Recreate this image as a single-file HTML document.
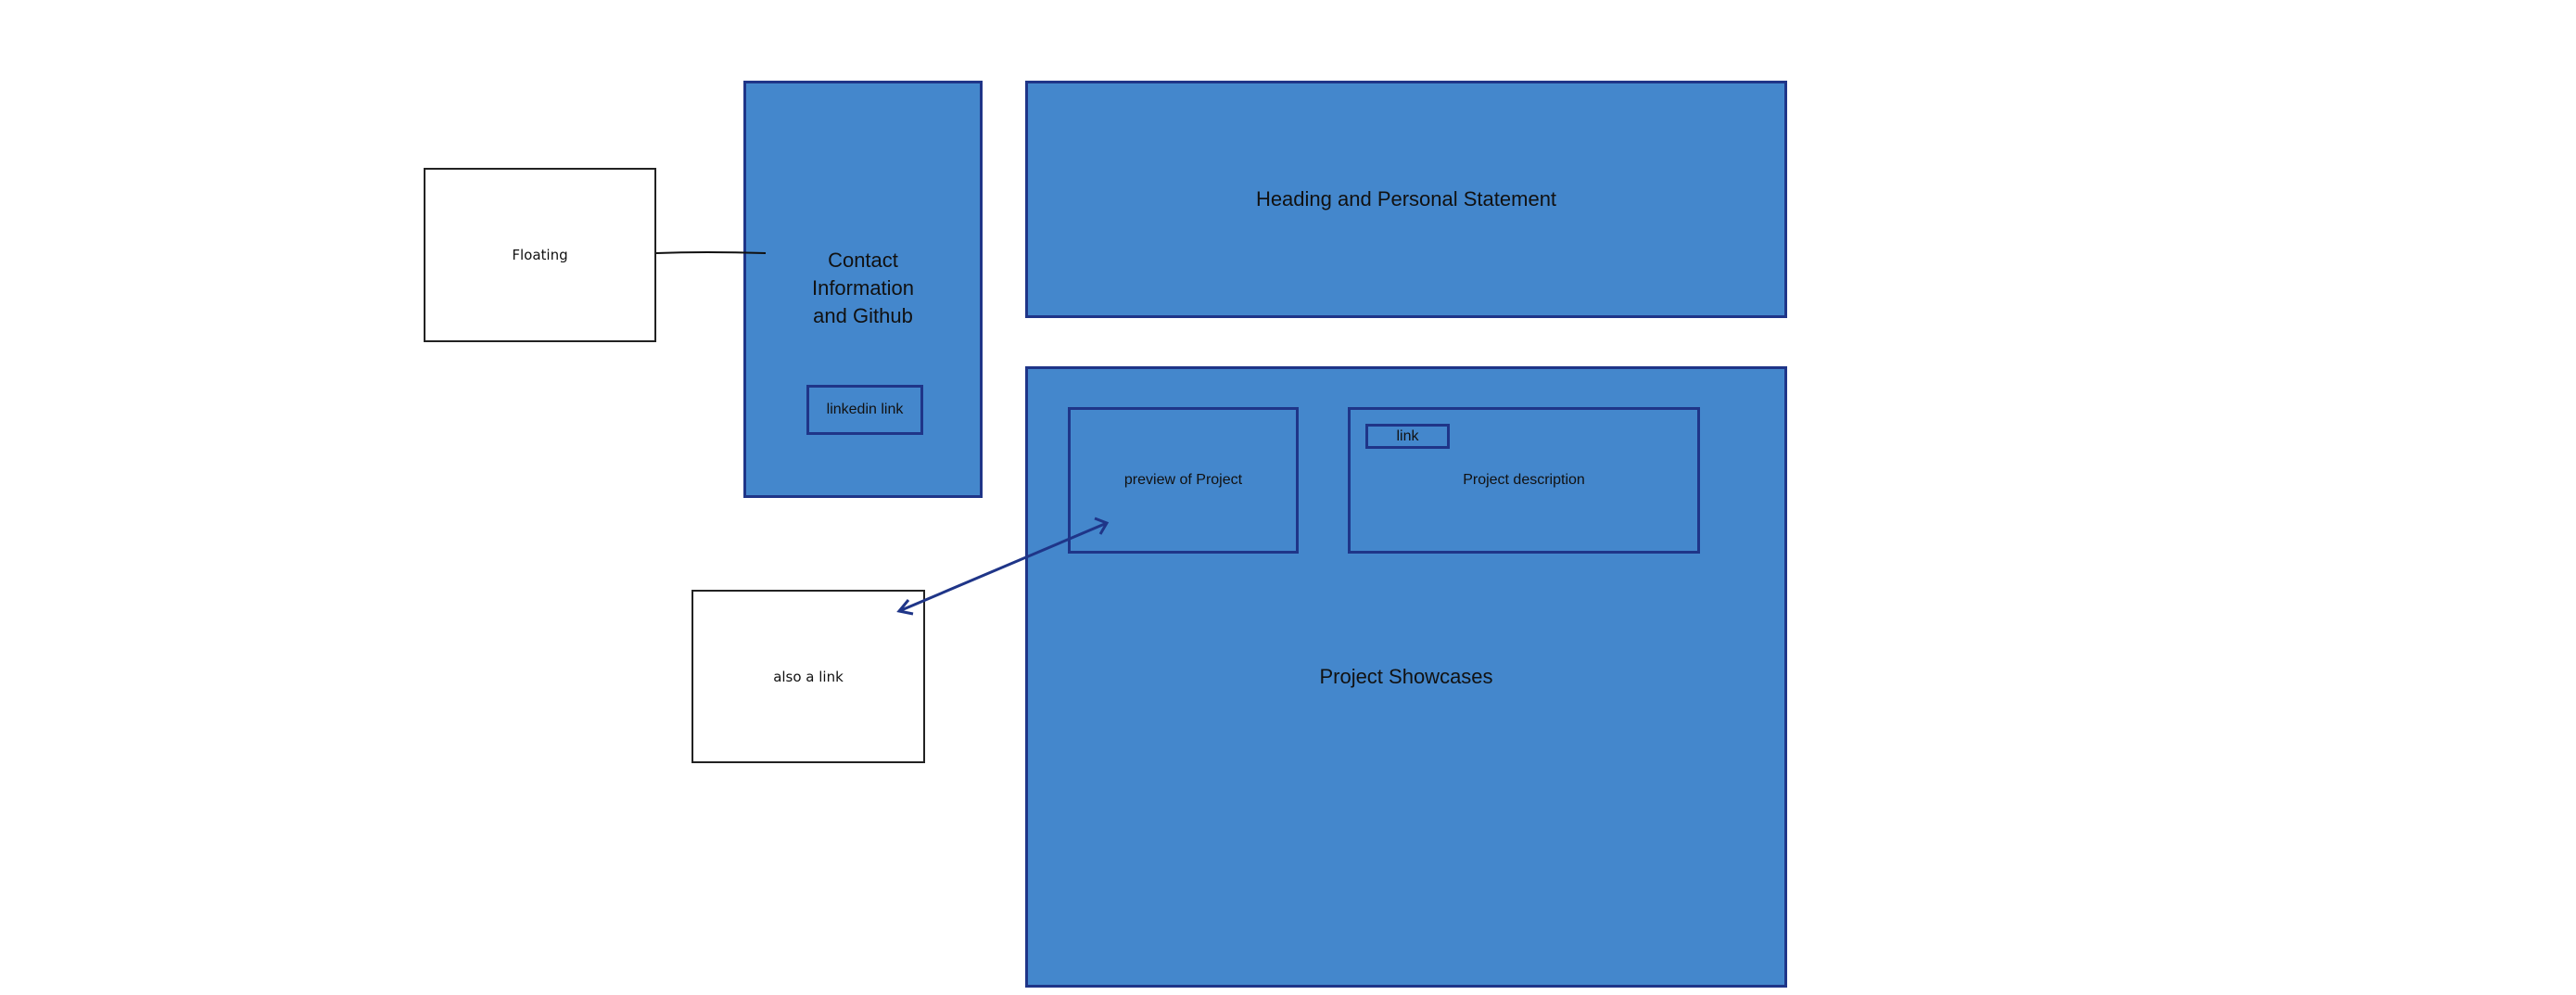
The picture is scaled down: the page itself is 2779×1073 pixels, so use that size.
<!DOCTYPE html>
<html><head><style>
html,body{margin:0;padding:0;background:#fff;}
body{width:2779px;height:1073px;position:relative;overflow:hidden;font-family:"Liberation Sans",sans-serif;color:#111;}
.b{position:absolute;box-sizing:border-box;background:#4487cc;border:3px solid #1f3588;display:flex;align-items:center;justify-content:center;text-align:center;}
.w{position:absolute;box-sizing:border-box;background:#fff;border:2px solid #222;display:flex;align-items:center;justify-content:center;font-family:"Comic Sans MS","DejaVu Sans",sans-serif;font-size:15px;}
.t{position:absolute;text-align:center;}
</style></head><body>
<div class="w" style="left:457px;top:181px;width:251px;height:188px;">Floating</div>
<div class="w" style="left:746px;top:636px;width:252px;height:187px;">also a link</div>
<div class="b" style="left:802px;top:87px;width:258px;height:450px;"></div>
<div class="t" style="left:802px;top:266px;width:258px;font-size:22px;line-height:30px;">Contact<br>Information<br>and Github</div>
<div class="b" style="left:870px;top:415px;width:126px;height:54px;font-size:16px;">linkedin link</div>
<div class="b" style="left:1106px;top:87px;width:822px;height:256px;font-size:22px;">Heading and Personal Statement</div>
<div class="b" style="left:1106px;top:395px;width:822px;height:670px;font-size:22px;">Project Showcases</div>
<div class="b" style="left:1152px;top:439px;width:249px;height:158px;font-size:16px;">preview of Project</div>
<div class="b" style="left:1454px;top:439px;width:380px;height:158px;font-size:16px;">Project description</div>
<div class="b" style="left:1473px;top:457px;width:91px;height:27px;font-size:16px;">link</div>
<svg style="position:absolute;left:0;top:0" width="2779" height="1073">
<path d="M708 273 Q760 271 826 273" stroke="#111" stroke-width="2" fill="none"/>
<line x1="970" y1="659" x2="1194" y2="564" stroke="#1f3588" stroke-width="3"/>
<path d="M980 647 L970 659 L985 662" stroke="#1f3588" stroke-width="3" fill="none"/>
<path d="M1181 559 L1194 564 L1187 576" stroke="#1f3588" stroke-width="3" fill="none"/>
</svg>
</body></html>
